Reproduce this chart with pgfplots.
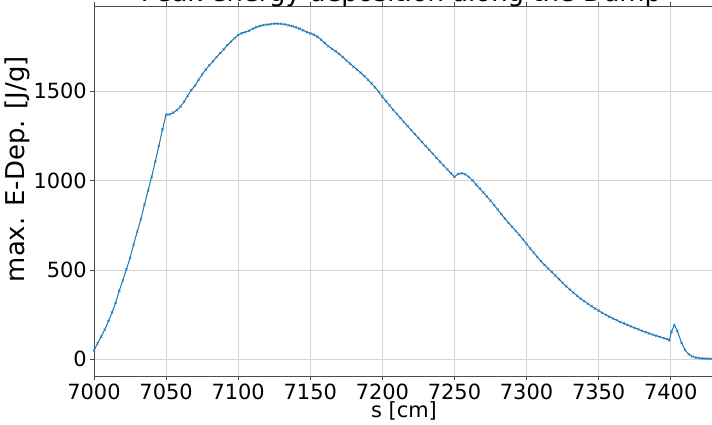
\documentclass[border=0pt]{standalone}
\usepackage{pgfplots}
\pgfplotsset{compat=1.18}
\usepackage{fontspec}
\setmainfont{DejaVu Sans}
\definecolor{mplblue}{HTML}{1F77B4}

\begin{document}
\begin{tikzpicture}
\begin{axis}[
    scale only axis,
    width=620bp, height=370bp,
    at={(0,0)}, anchor=south west,
    xmin=7000, xmax=7430,
    ymin=-93, ymax=1975,
    xtick={7000,7050,...,7400},
    ytick={0,500,1000,1500},
    /pgf/number format/1000 sep={},
    /pgf/number format/assume math mode=true,
    ticklabel style={font=\fontsize{21}{25}\selectfont},
    yticklabel style={inner sep=0pt, xshift=-3bp},
    xticklabel style={inner sep=0pt, yshift=-4bp},
    grid=major,
    grid style={line width=0.8bp, color=black!17},
    axis line style={line width=0.8bp, color=black!70},
    tick align=outside,
    major tick length=4bp,
    tick style={line width=0.8bp, color=black!70},
    xlabel={s [cm]},
    ylabel={max. E-Dep. [J/g]},
    xlabel style={font=\fontsize{21}{25}\selectfont,
        at={(axis description cs:0.5,0)}, anchor=base, yshift=-41bp},
    ylabel style={font=\fontsize{26}{30}\selectfont,
        at={(axis description cs:0,0.559)}, anchor=base, yshift=69bp},
]
\addplot[color=mplblue, line width=1bp, mark=x, mark size=1.6bp,
    mark options={line width=0.5bp}] coordinates {
(7000,50) (7002.5,90) (7005,127) (7007.5,167) (7010,213) (7012.5,262)
(7015,316) (7017.5,383) (7020,442) (7022.5,503) (7025,567) (7027.5,642)
(7030,714) (7032.5,783) (7035,865) (7037.5,943) (7040,1021) (7042.5,1105)
(7045,1194) (7047.5,1285) (7050,1368) (7052.5,1369) (7055,1379) (7057.5,1393)
(7060,1413) (7062.5,1440) (7065,1474) (7067.5,1505) (7070,1530) (7072.5,1562)
(7075,1592) (7077.5,1620) (7080,1643) (7082.5,1666) (7085,1689) (7087.5,1711)
(7090,1733) (7092.5,1756) (7095,1776) (7097.5,1795) (7100,1813) (7102.5,1823)
(7105,1829) (7107.5,1837) (7110,1848) (7112.5,1856) (7115,1863) (7117.5,1868)
(7120,1871) (7122.5,1874) (7125,1876) (7127.5,1876) (7130,1875) (7132.5,1872)
(7135,1867) (7137.5,1862) (7140,1856) (7142.5,1848) (7145,1839) (7147.5,1829)
(7150,1822) (7152.5,1815) (7155,1803) (7157.5,1787) (7160,1768) (7162.5,1750)
(7165,1736) (7167.5,1722) (7170,1707) (7172.5,1690) (7175,1671) (7177.5,1653)
(7180,1636) (7182.5,1619) (7185,1602) (7187.5,1583) (7190,1563) (7192.5,1542)
(7195,1520) (7197.5,1495) (7200,1468) (7202.5,1443) (7205,1419) (7207.5,1395)
(7210,1372) (7212.5,1349) (7215,1326) (7217.5,1303) (7220,1281) (7222.5,1259)
(7225,1237) (7227.5,1215) (7230,1193) (7232.5,1171) (7235,1149) (7237.5,1127)
(7240,1105) (7242.5,1083) (7245,1062) (7247.5,1040) (7250,1020) (7252.5,1036)
(7255,1040) (7257.5,1034) (7260,1020) (7262.5,1000) (7265,977) (7267.5,955)
(7270,933) (7272.5,910) (7275,887) (7277.5,862) (7280,837) (7282.5,812)
(7285,787) (7287.5,763) (7290,741) (7292.5,718) (7295,695) (7297.5,671)
(7300,645) (7302.5,620) (7305,596) (7307.5,572) (7310,548) (7312.5,528)
(7315,508) (7317.5,489) (7320,469) (7322.5,448) (7325,428) (7327.5,408)
(7330,390) (7332.5,373) (7335,356) (7337.5,339) (7340,325) (7342.5,311)
(7345,297) (7347.5,284) (7350,272) (7352.5,260) (7355,249) (7357.5,238)
(7360,228) (7362.5,219) (7365,209) (7367.5,201) (7370,192) (7372.5,184)
(7375,176) (7377.5,168) (7380,160) (7382.5,152) (7385,145) (7387.5,138)
(7390,132) (7392.5,126) (7395,119) (7397.5,113) (7399,106) (7400.5,155)
(7402.5,192) (7404.5,160) (7407.5,92) (7410,52) (7412.5,28) (7415,16)
(7417.5,10) (7420,7) (7422.5,5) (7425,4) (7427.5,3) (7430,3)
};
\end{axis}
\node[anchor=base, font=\fontsize{26}{30}\selectfont] at (307bp,374bp)
    {Peak energy deposition along the Dump};
\pgfresetboundingbox
\useasboundingbox (-94bp,-49bp) rectangle (618bp,376bp);
\end{tikzpicture}
\end{document}
